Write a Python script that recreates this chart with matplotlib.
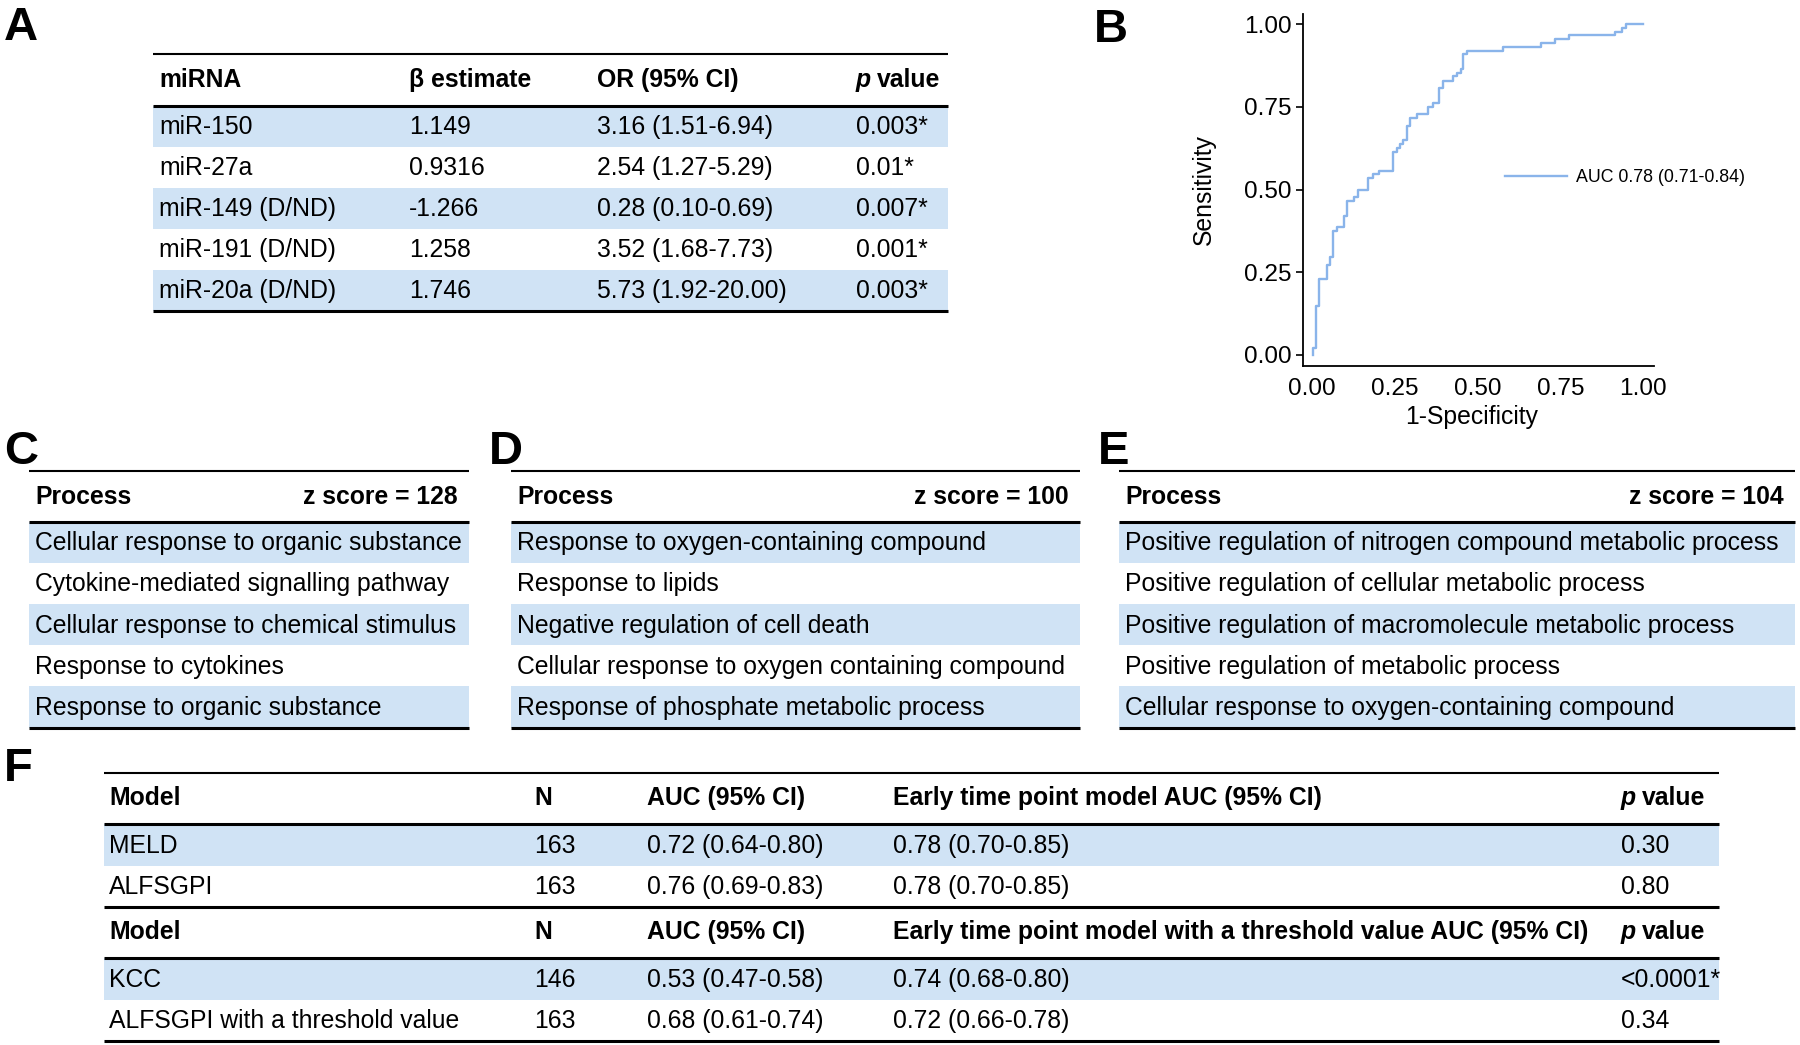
import matplotlib
matplotlib.use("Agg")
import matplotlib.pyplot as plt
from matplotlib.patches import Rectangle
from matplotlib.ticker import FormatStrFormatter

plt.rcParams['font.family'] = ['Liberation Sans', 'DejaVu Sans']

# ---------------- data ----------------
# ROC curve (B): corner points of the step curve
roc_fpr = [0.003, 0.003, 0.013, 0.023, 0.045, 0.055, 0.065, 0.075, 0.097, 0.108,
           0.128, 0.141, 0.171, 0.184, 0.204, 0.246, 0.256, 0.266, 0.276, 0.286,
           0.296, 0.319, 0.352, 0.365, 0.385, 0.395, 0.427, 0.439, 0.449, 0.457,
           0.467, 0.576, 0.691, 0.734, 0.777, 0.915, 0.935, 0.948, 1.000]
roc_tpr = [0.000, 0.022, 0.147, 0.228, 0.271, 0.297, 0.375, 0.387, 0.420, 0.466,
           0.478, 0.498, 0.534, 0.547, 0.557, 0.612, 0.625, 0.638, 0.650, 0.692,
           0.715, 0.727, 0.751, 0.763, 0.806, 0.829, 0.842, 0.854, 0.865, 0.910,
           0.920, 0.932, 0.944, 0.956, 0.968, 0.978, 0.989, 1.000, 1.000]
auc_label = 'AUC 0.78 (0.71-0.84)'
roc_ticks = [0.00, 0.25, 0.50, 0.75, 1.00]

# table A
a_header = ['miRNA', 'β estimate', 'OR (95% CI)', 'p value']
a_mirna = ['miR-150', 'miR-27a', 'miR-149 (D/ND)', 'miR-191 (D/ND)', 'miR-20a (D/ND)']
a_beta = ['1.149', '0.9316', '-1.266', '1.258', '1.746']
a_or = ['3.16 (1.51-6.94)', '2.54 (1.27-5.29)', '0.28 (0.10-0.69)',
        '3.52 (1.68-7.73)', '5.73 (1.92-20.00)']
a_p = ['0.003*', '0.01*', '0.007*', '0.001*', '0.003*']

# tables C, D, E
c_process = ['Cellular response to organic substance',
             'Cytokine-mediated signalling pathway',
             'Cellular response to chemical stimulus',
             'Response to cytokines',
             'Response to organic substance']
d_process = ['Response to oxygen-containing compound',
             'Response to lipids',
             'Negative regulation of cell death',
             'Cellular response to oxygen containing compound',
             'Response of phosphate metabolic process']
e_process = ['Positive regulation of nitrogen compound metabolic process',
             'Positive regulation of cellular metabolic process',
             'Positive regulation of macromolecule metabolic process',
             'Positive regulation of metabolic process',
             'Cellular response to oxygen-containing compound']
z_scores = [128, 100, 104]

# table F
f_header1 = ['Model', 'N', 'AUC (95% CI)', 'Early time point model AUC (95% CI)', 'p value']
f_header2 = ['Model', 'N', 'AUC (95% CI)',
             'Early time point model with a threshold value AUC (95% CI)', 'p value']
f_model1 = ['MELD', 'ALFSGPI']
f_n1 = ['163', '163']
f_auc1 = ['0.72 (0.64-0.80)', '0.76 (0.69-0.83)']
f_early1 = ['0.78 (0.70-0.85)', '0.78 (0.70-0.85)']
f_p1 = ['0.30', '0.80']
f_model2 = ['KCC', 'ALFSGPI with a threshold value']
f_n2 = ['146', '163']
f_auc2 = ['0.53 (0.47-0.58)', '0.68 (0.61-0.74)']
f_early2 = ['0.74 (0.68-0.80)', '0.72 (0.66-0.78)']
f_p2 = ['<0.0001*', '0.34']

# ---------------- style ----------------
SHADE = '#D0E3F5'
LINE = '#8AB4EA'
FS = 17.8
HCAP = 6.8         # baseline offset below row centre, header rows
BCAP = 7.8         # same for body rows
THIN = 1.5
THICK = 2.2

fig = plt.figure(figsize=(18, 10.45), dpi=100)
W, H = 1800, 1045

# overlay in pixel coordinates for the tables
ov = fig.add_axes([0, 0, 1, 1])
ov.set_xlim(0, W)
ov.set_ylim(H, 0)
ov.axis('off')


def rule(x0, x1, y, lw):
    ov.plot([x0, x1], [y, y], color='black', lw=lw, solid_capstyle='butt')


def head(x, y, s, ha='left'):
    if s == 'p value':
        ov.text(x, y, 'p', fontsize=FS, weight='bold', style='italic', va='baseline')
        ov.text(x + 21, y, 'value', fontsize=FS, weight='bold', va='baseline')
    else:
        ov.text(x, y, s, fontsize=FS, weight='bold', ha=ha, va='baseline')


def body(x0, x1, top, h, columns, xs, shaded):
    for i, cells in enumerate(zip(*columns)):
        y = top + i * h
        if shaded[i]:
            ov.add_patch(Rectangle((x0, y), x1 - x0, h, color=SHADE, lw=0, zorder=0))
        for x, s in zip(xs, cells):
            ov.text(x, y + h / 2 + BCAP, s, fontsize=FS, va='baseline')


def panel(x, y, s):
    ov.text(x, y, s, fontsize=34, weight='bold', va='baseline')


# ---- A ----
ax0, ax1 = 153, 948
a_x = [159, 409, 597, 856]
rule(ax0, ax1, 54, THIN)
for x, s in zip(a_x, a_header):
    head(x, 80 + HCAP, s)
body(ax0, ax1, 106, 41, [a_mirna, a_beta, a_or, a_p], a_x,
     [True, False, True, False, True])
rule(ax0, ax1, 106, THICK)
rule(ax0, ax1, 311, THICK)
panel(4, 40, 'A')

# ---- C, D, E ----
proc_tables = [(29, 469, c_process, 'C', 4), (511, 1080, d_process, 'D', 489),
               (1119, 1795, e_process, 'E', 1098)]
for (x0, x1, items, lab, lx), z in zip(proc_tables, z_scores):
    rule(x0, x1, 471, THIN)
    head(x0 + 6, 497 + HCAP, 'Process')
    head(x1 - 11, 497 + HCAP, 'z score = %d' % z, ha='right')
    body(x0, x1, 522, 41.1, [items], [x0 + 6], [True, False, True, False, True])
    rule(x0, x1, 522, THICK)
    rule(x0, x1, 728, THICK)
    panel(lx, 464, lab)

# ---- F ----
fx0, fx1 = 104, 1719
f_x = [109, 534, 647, 893, 1621]
rule(fx0, fx1, 773, THIN)
for x, s in zip(f_x, f_header1):
    head(x, 798.5 + HCAP, s)
body(fx0, fx1, 824, 41.5, [f_model1, f_n1, f_auc1, f_early1, f_p1], f_x, [True, False])
rule(fx0, fx1, 824, THICK)
rule(fx0, fx1, 907, THICK)
for x, s in zip(f_x, f_header2):
    head(x, 932.5 + HCAP, s)
body(fx0, fx1, 958, 41.5, [f_model2, f_n2, f_auc2, f_early2, f_p2], f_x, [True, False])
rule(fx0, fx1, 958, THICK)
rule(fx0, fx1, 1041, THICK)
panel(4, 781, 'F')

# ---- B : ROC ----
l, r, b, t = 1302.7, 1654, 365.7, 14
ax = fig.add_axes([l / W, 1 - b / H, (r - l) / W, (b - t) / H])
ax.step(roc_fpr, roc_tpr, where='post', color=LINE, lw=1.7, label=auc_label)
ax.set_xlim(-0.027, 1.032)
ax.set_ylim(-0.033, 1.031)
ax.set_xticks(roc_ticks)
ax.set_yticks(roc_ticks)
ax.xaxis.set_major_formatter(FormatStrFormatter('%.2f'))
ax.yaxis.set_major_formatter(FormatStrFormatter('%.2f'))
ax.spines[['top', 'right']].set_visible(False)
ax.spines[['left', 'bottom']].set_linewidth(1.3)
ax.tick_params(length=5, width=1.2, labelsize=17.6, pad=3, colors='black')
ax.tick_params(axis='x', length=0, pad=8.5)
ax.set_xlabel('1-Specificity', fontsize=17.8)
ax.set_ylabel('Sensitivity', fontsize=17.8, labelpad=20)
ax.xaxis.set_label_coords(0.482, -0.113)
ax.legend(loc='center left', bbox_to_anchor=(1505 / W, 1 - 178 / H),
          bbox_transform=fig.transFigure, frameon=False, fontsize=12.8,
          handlelength=3.5, handletextpad=0.5, borderpad=0, borderaxespad=0)
panel(1094, 42, 'B')

fig.savefig('out.png', dpi=100)
